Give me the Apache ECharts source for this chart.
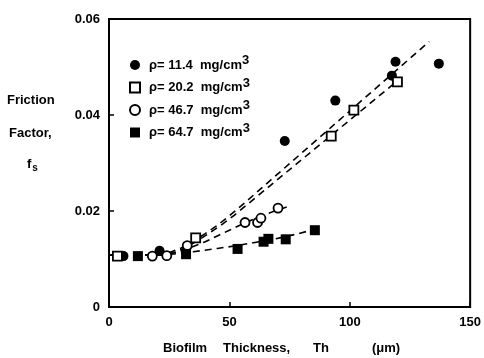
<!DOCTYPE html>
<html>
<head>
<meta charset="utf-8">
<script src="https://cdn.jsdelivr.net/npm/echarts@6/dist/echarts.min.js"></script>
<style>
  html, body { margin: 0; padding: 0; background: #fff; }
  #chart { width: 484px; height: 358px; }
</style>
</head>
<body>
<div id="chart"></div>
<script>
// données (x = épaisseur µm, y = facteur de friction)
const densities = ['11.4', '20.2', '46.7', '64.7'];

const pts114 = [[6, 0.0106], [21, 0.0117], [73, 0.0346], [94, 0.0430], [117.5, 0.0482], [119, 0.0511], [137, 0.0507]];
const pts202 = [[3.5, 0.0106], [36, 0.0144], [92.3, 0.0356], [101.7, 0.0410], [119.8, 0.0469]];
const pts467 = [[18, 0.0106], [24, 0.0107], [32.5, 0.0128], [56.5, 0.0176], [61.7, 0.0176], [63.1, 0.0185], [70.2, 0.0206]];
const pts647 = [[12, 0.0106], [32, 0.0110], [53.4, 0.0121], [64.2, 0.0136], [66.2, 0.0142], [73.4, 0.0141], [85.5, 0.0160]];

// courbes en tirets (points relevés le long des traits)
const fit114 = [[0, 0.0108], [20, 0.0108], [25, 0.0113], [30, 0.0123], [35, 0.0137], [40, 0.0153], [45, 0.0170], [50, 0.0190], [55, 0.0211], [60, 0.0233], [133, 0.0553]];
const fit202 = [[0, 0.0108], [22, 0.0108], [27, 0.0113], [32, 0.0124], [37, 0.0139], [42, 0.0155], [47, 0.0172], [52, 0.0191], [58, 0.0216], [120, 0.0472]];
const fit467 = [[0, 0.0108], [20, 0.0108], [25, 0.0111], [30, 0.0117], [35, 0.0126], [40, 0.0136], [45, 0.0148], [50, 0.0160], [55, 0.0172], [60, 0.0183], [65, 0.0193], [70, 0.0202], [75, 0.0210]];
const fit647 = [[0, 0.0108], [22, 0.0108], [28, 0.0111], [35, 0.0115], [45, 0.0122], [52, 0.0127], [60, 0.0134], [70, 0.0143], [78, 0.0152], [87, 0.0164]];

const xTicks = [0, 50, 100, 150];
const yTicks = [0, 0.02, 0.04, 0.06];

const chart = echarts.init(document.getElementById('chart'));

const font = '"Liberation Sans", Arial, sans-serif';

function scatter(name, data, symbol, size, filled) {
    return {
        name: name,
        type: 'scatter',
        data: data,
        symbol: symbol,
        symbolSize: size,
        itemStyle: {
            color: filled ? '#000' : '#fff',
            borderColor: '#000',
            borderWidth: filled ? 0 : 1.8,
            opacity: 1
        },
        z: 5
    };
}

function fit(data) {
    return {
        type: 'line',
        data: data,
        symbol: 'none',
        silent: true,
        lineStyle: { color: '#000', width: 1.6, type: [7, 5] },
        z: 3
    };
}

function word(text, left) {
    return { type: 'text', left: left, top: 342, style: { text: text, font: 'bold 13px ' + font, fill: '#000' } };
}

const options = {
    animation: false,
    backgroundColor: '#fff',
    grid: {
        left: 109, right: 12, top: 19, bottom: 51,
        show: true, borderColor: '#000', borderWidth: 2, backgroundColor: 'transparent'
    },
    legend: {
        data: densities,
        orient: 'vertical',
        left: 124, top: 49,
        itemGap: 5,
        itemWidth: 10, itemHeight: 10,
        formatter: name => 'ρ= ' + name + '  mg/cm{sup|3}',
        textStyle: {
            fontFamily: font, fontSize: 13, color: '#000', fontWeight: 'bold', padding: [0, 0, 0, 4],
            rich: { sup: { fontSize: 13, fontWeight: 'bold', verticalAlign: 'bottom', padding: [0, 0, 9, 0], fontFamily: font } }
        }
    },
    xAxis: {
        type: 'value', min: 0, max: 150, interval: 50,
        axisLine: { show: false },
        axisTick: { inside: true, length: 5, lineStyle: { color: '#000', width: 1.5 } },
        axisLabel: { fontFamily: font, fontSize: 13, fontWeight: 'bold', color: '#000', margin: 9,
            formatter: v => xTicks.includes(v) ? String(v) : '' },
        splitLine: { show: false }
    },
    yAxis: {
        type: 'value', min: 0, max: 0.06, interval: 0.02,
        axisLine: { show: false },
        axisTick: { inside: true, length: 5, lineStyle: { color: '#000', width: 1.5 } },
        axisLabel: { fontFamily: font, fontSize: 13, fontWeight: 'bold', color: '#000', margin: 9,
            formatter: v => yTicks.includes(v) ? (v === 0 ? '0' : v.toFixed(2)) : '' },
        splitLine: { show: false }
    },
    graphic: [
        { type: 'text', left: 7, top: 94, style: { text: 'Friction', font: 'bold 13px ' + font, fill: '#000' } },
        { type: 'text', left: 9, top: 127, style: { text: 'Factor,', font: 'bold 13px ' + font, fill: '#000' } },
        { type: 'text', left: 27, top: 158, style: {
            text: 'f{sub|s}', font: 'bold 13px ' + font, fill: '#000',
            rich: { sub: { fontSize: 10, fontWeight: 'bold', fontFamily: font, padding: [7, 0, 0, 1] } } } },
        word('Biofilm', 163),
        word('Thickness,', 223),
        word('Th', 313),
        word('(μm)', 372)
    ],
    series: [
        scatter('11.4', pts114, 'circle', 10, true),
        scatter('20.2', pts202, 'rect', 9, false),
        scatter('46.7', pts467, 'circle', 9, false),
        scatter('64.7', pts647, 'rect', 10, true),
        fit(fit114),
        fit(fit202),
        fit(fit467),
        fit(fit647)
    ]
};

chart.setOption(options);
</script>
</body>
</html>
